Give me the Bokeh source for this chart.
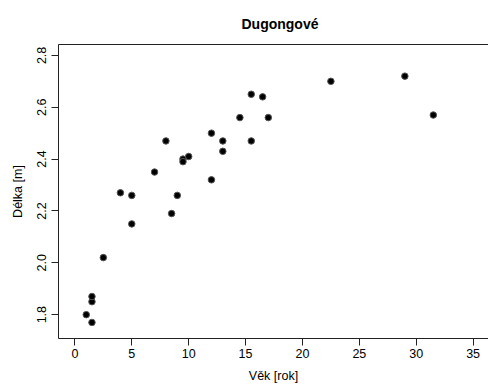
from bokeh.plotting import figure
from bokeh.models import FixedTicker, LinearAxis, Title, PrintfTickFormatter
from bokeh.embed import file_html
from bokeh.resources import INLINE

# Dugong data: age [years] and length [m]
vek = [1.0, 1.5, 1.5, 1.5, 2.5, 4.0, 5.0, 5.0, 7.0, 8.0, 8.5, 9.0, 9.5, 9.5,
       10.0, 12.0, 12.0, 13.0, 13.0, 14.5, 15.5, 15.5, 16.5, 17.0, 22.5, 29.0, 31.5]
delka = [1.80, 1.85, 1.87, 1.77, 2.02, 2.27, 2.15, 2.26, 2.35, 2.47, 2.19, 2.26, 2.40, 2.39,
         2.41, 2.50, 2.32, 2.43, 2.47, 2.56, 2.65, 2.47, 2.64, 2.56, 2.70, 2.72, 2.57]
x_ticks = [0, 5, 10, 15, 20, 25, 30, 35]
y_ticks = [1.8, 2.0, 2.2, 2.4, 2.6, 2.8]

FONT = "Liberation Sans"
AX = "#222222"

p = figure(width=488, height=385, output_backend="svg", toolbar_location=None,
           x_range=(-1.44, 36.35), y_range=(1.708, 2.842),
           min_border_left=58, min_border_right=0, min_border_top=44, min_border_bottom=46,
           x_axis_label="Věk [rok]", y_axis_label="Délka [m]")
p.title = Title(text="Dugongové", align="left", offset=183, text_font=FONT,
                text_font_size="14px", text_font_style="bold", text_color="black", standoff=26)
p.outline_line_color = None
p.xgrid.visible = False
p.ygrid.visible = False
p.background_fill_color = "white"
p.border_fill_color = "white"

xax = p.below[0]
yax = p.left[0]

for ax in (xax, yax):
    ax.axis_line_color = AX
    ax.major_tick_line_color = AX
    ax.minor_tick_line_color = None
    ax.major_tick_out = 7
    ax.major_tick_in = 0
    ax.major_label_text_font = FONT
    ax.major_label_text_font_size = "12.5px"
    ax.major_label_text_color = "black"
    ax.axis_label_text_font = FONT
    ax.axis_label_text_font_size = "12.5px"
    ax.axis_label_text_font_style = "normal"
    ax.axis_label_text_color = "black"

xax.ticker = FixedTicker(ticks=x_ticks)
xax.major_label_standoff = 3
xax.axis_label_standoff = 8
yax.ticker = FixedTicker(ticks=y_ticks)
yax.formatter = PrintfTickFormatter(format="%.1f")
yax.major_label_orientation = "vertical"
yax.major_label_standoff = 5
yax.axis_label_standoff = 10

# top box line
top = LinearAxis(ticker=FixedTicker(ticks=[]), major_tick_line_color=None,
                 minor_tick_line_color=None, major_label_text_color=None,
                 axis_line_color=AX)
p.add_layout(top, "above")

p.scatter(vek, delka, size=6.5, fill_color="black", line_color="#555555", line_width=1)

open("out.html", "w").write(file_html(p, INLINE))
